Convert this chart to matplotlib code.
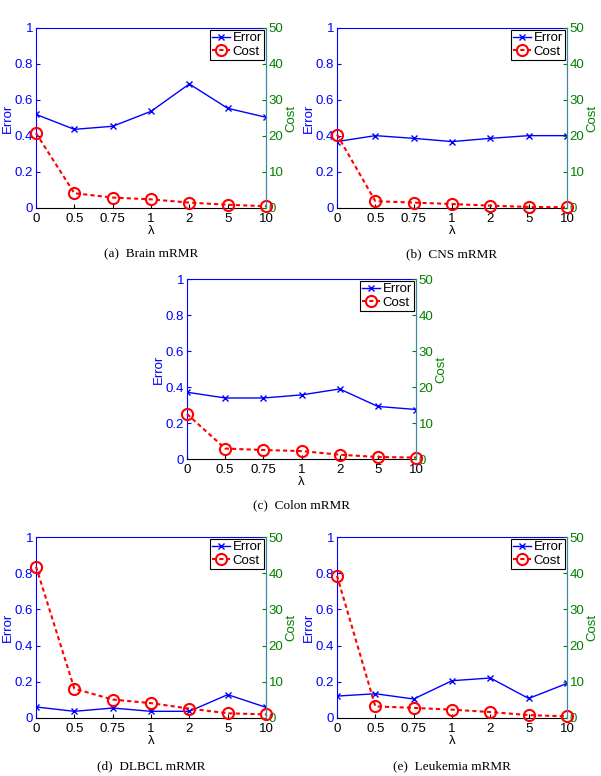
import matplotlib
matplotlib.use("Agg")
import matplotlib.pyplot as plt

plt.rcParams['font.family'] = ['Liberation Sans', 'DejaVu Sans']

lambdas = ['0', '0.5', '0.75', '1', '2', '5', '10']

brain_error = [0.52, 0.437, 0.454, 0.537, 0.689, 0.554, 0.504]
brain_cost = [20.8, 4.1, 2.9, 2.4, 1.5, 0.9, 0.5]
cns_error = [0.369, 0.402, 0.387, 0.369, 0.387, 0.402, 0.402]
cns_cost = [20.4, 1.9, 1.5, 1.1, 0.65, 0.3, 0.2]
colon_error = [0.371, 0.339, 0.339, 0.356, 0.389, 0.292, 0.275]
colon_cost = [12.5, 2.9, 2.5, 2.2, 1.2, 0.55, 0.4]
dlbcl_error = [0.061, 0.037, 0.055, 0.037, 0.037, 0.129, 0.059]
dlbcl_cost = [41.8, 8.1, 5.1, 4.1, 2.6, 1.3, 1.0]
leuk_error = [0.121, 0.134, 0.105, 0.206, 0.221, 0.108, 0.191]
leuk_cost = [39.3, 3.2, 2.8, 2.3, 1.65, 0.8, 0.45]

captions = ['(a)  Brain mRMR', '(b)  CNS mRMR', '(c)  Colon mRMR',
            '(d)  DLBCL mRMR', '(e)  Leukemia mRMR']
errors = [brain_error, cns_error, colon_error, dlbcl_error, leuk_error]
costs = [brain_cost, cns_cost, colon_cost, dlbcl_cost, leuk_cost]

W, H = 601, 776
# axes boxes in pixels: left, top, right, bottom
boxes = [(36, 28, 266, 208), (337, 28, 567, 208), (187, 279, 416, 459),
         (36, 537, 266, 718), (337, 537, 567, 718)]
cap_y = [254, 254, 505, 766, 766]

BLUE = '#0000ff'
GREEN = '#008000'
RED = '#ff0000'
TEAL = '#3d8aa0'
FS = 9.5

fig = plt.figure(figsize=(W / 100, H / 100), dpi=100)

x = list(range(len(lambdas)))
for i in range(5):
    l, t, r, b = boxes[i]
    ax = fig.add_axes([l / W, 1 - b / H, (r - l) / W, (b - t) / H])
    ax2 = ax.twinx()
    le, = ax.plot(x, errors[i], color=BLUE, marker='x', ms=5, mew=1, lw=1, label='Error')
    lc, = ax2.plot(x, costs[i], color=RED, marker='o', ms=8, mfc='none', mew=1.5,
                   lw=1.5, ls=(0, (2, 1.5)), label='Cost', clip_on=False)
    ax.set_xlim(0, 6)
    ax.set_ylim(0, 1)
    ax2.set_ylim(0, 50)
    ax.set_xticks(x)
    ax.set_xticklabels(lambdas)
    ax.set_yticks([0, 0.2, 0.4, 0.6, 0.8, 1])
    ax.set_yticklabels(['0', '0.2', '0.4', '0.6', '0.8', '1'])
    ax2.set_yticks([0, 10, 20, 30, 40, 50])
    ax.tick_params(axis='y', direction='in', length=3, labelsize=FS, pad=2, colors=BLUE)
    ax.tick_params(axis='x', direction='in', length=3, labelsize=FS, pad=3.5, colors='black')
    ax2.tick_params(axis='y', direction='in', length=3, labelsize=FS, colors=GREEN, pad=2)
    ax.spines['left'].set_color(BLUE)
    ax.spines['top'].set_color(BLUE)
    ax.spines['bottom'].set_color('black')
    ax.spines['right'].set_color(TEAL)
    ax2.spines['left'].set_visible(False)
    ax2.spines['top'].set_visible(False)
    ax2.spines['bottom'].set_visible(False)
    ax2.spines['right'].set_color(TEAL)
    ax.set_ylabel('Error', color=BLUE, fontsize=FS, labelpad=1)
    ax2.set_ylabel('Cost', color=GREEN, fontsize=FS, labelpad=1)
    ax.set_xlabel('λ', fontsize=FS, labelpad=0)
    leg = ax2.legend([le, lc], ['Error', 'Cost'], loc='upper right', fontsize=FS,
                     fancybox=False, framealpha=1, edgecolor='black',
                     handlelength=1.4, handletextpad=0.2, borderpad=0.15,
                     labelspacing=0.1, borderaxespad=0.15)
    leg.get_frame().set_linewidth(0.8)
    fig.text((l + r) / 2 / W, 1 - cap_y[i] / H, captions[i], ha='center', va='center',
             fontsize=9.5, family=['Liberation Serif', 'DejaVu Serif'])

fig.savefig('out.png', dpi=100)
